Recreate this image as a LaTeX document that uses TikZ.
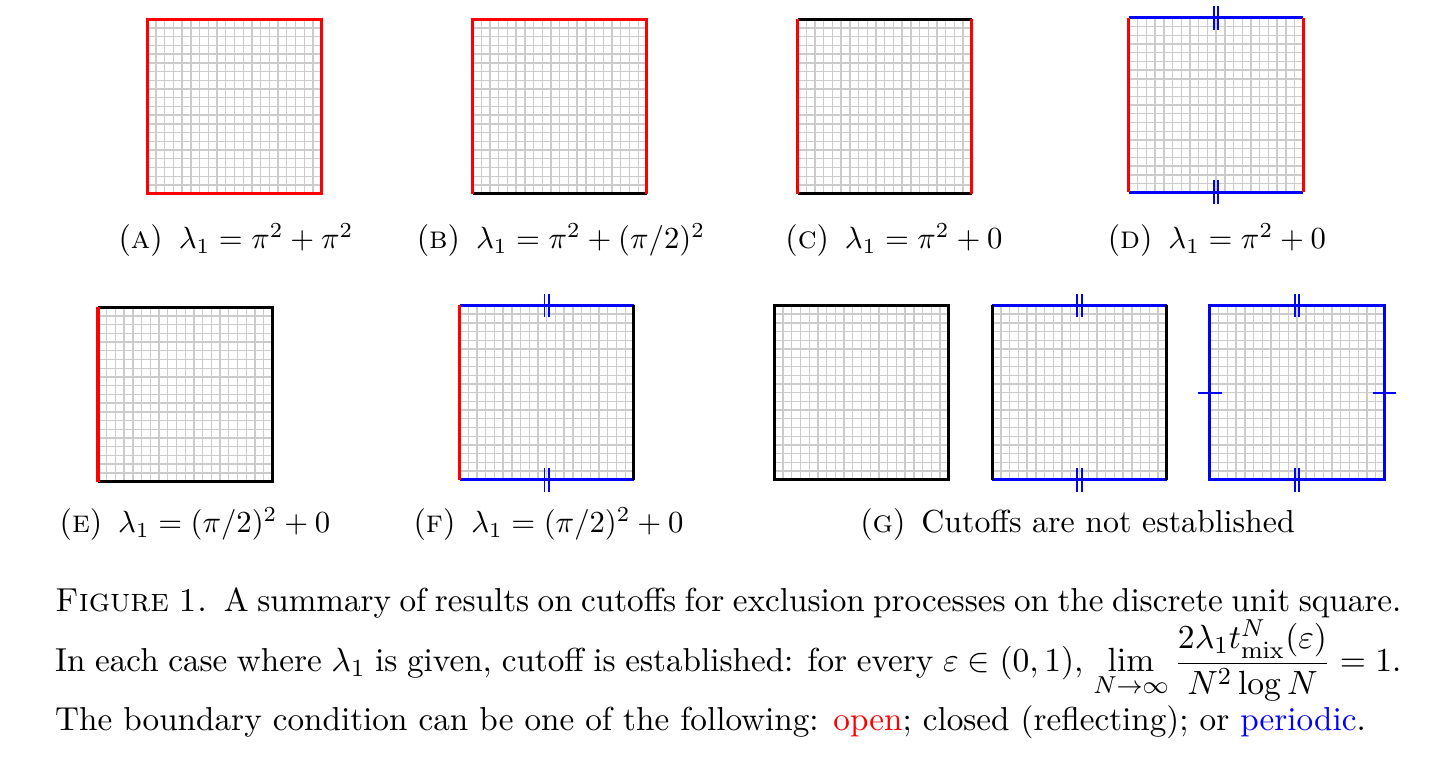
\documentclass[tikz,border=0pt]{standalone}
\usepackage{amsmath,amssymb,xcolor}
\usepackage{tikz}

\tikzset{
  openside/.style={red, line width=1pt},
  closedside/.style={black, line width=1pt},
  periodicside/.style={blue, line width=1pt},
  tickmark/.style={blue, line width=0.6pt},
  gridline/.style={gray!40, line width=0.45pt},
  sublabel/.style={anchor=base, inner sep=0pt, font=\fontsize{10.4}{12.5}\selectfont},
  capline/.style={anchor=base west, inner sep=0pt, font=\fontsize{10.83}{13}\selectfont}
}
% fine grid of the unit square, 20 x 20 cells
\newcommand{\unitgrid}{%
  \foreach \i in {1,...,19} {
    \draw[gridline] (\i/10,0) -- (\i/10,2);
    \draw[gridline] (0,\i/10) -- (2,\i/10);
  }}
% periodic marks: double ticks on top and bottom
\newcommand{\topbottomticks}{%
  \foreach \yy in {0,2} {
    \draw[tickmark] (0.975,\yy-0.135) -- (0.975,\yy+0.135);
    \draw[tickmark] (1.025,\yy-0.135) -- (1.025,\yy+0.135);
  }}

\begin{document}
\begin{tikzpicture}
  \useasboundingbox (0,0) rectangle (16.457,8.773);

  % (a) open on all sides
  \begin{scope}[shift={(1.689,6.552)}]
    \unitgrid
    \draw[openside] (0,0) rectangle (2,2);
  \end{scope}
  % (b)
  \begin{scope}[shift={(5.419,6.552)}]
    \unitgrid
    \draw[closedside] (0,0) -- (2,0);
    \draw[openside] (2,0) -- (2,2) -- (0,2) -- (0,0);
  \end{scope}
  % (c)
  \begin{scope}[shift={(9.146,6.552)}]
    \unitgrid
    \draw[closedside] (0,0) -- (2,0);
    \draw[closedside] (0,2) -- (2,2);
    \draw[openside] (0,0) -- (0,2);
    \draw[openside] (2,0) -- (2,2);
  \end{scope}
  % (d)
  \begin{scope}[shift={(12.947,6.568)}]
    \unitgrid
    \draw[periodicside] (0,0) -- (2,0);
    \draw[periodicside] (0,2) -- (2,2);
    \draw[openside] (0,0) -- (0,2);
    \draw[openside] (2,0) -- (2,2);
    \topbottomticks
  \end{scope}

  % (e)
  \begin{scope}[shift={(1.124,3.250)}]
    \unitgrid
    \draw[closedside] (0,0) -- (2,0) -- (2,2) -- (0,2);
    \draw[openside] (0,0) -- (0,2);
  \end{scope}
  % (f)
  \begin{scope}[shift={(5.270,3.270)}]
    \unitgrid
    \draw[periodicside] (0,0) -- (2,0);
    \draw[periodicside] (0,2) -- (2,2);
    \draw[openside] (0,0) -- (0,2);
    \draw[closedside] (2,0) -- (2,2);
    \topbottomticks
  \end{scope}
  % (g) three cases
  \begin{scope}[shift={(8.880,3.270)}]
    \unitgrid
    \draw[closedside] (0,0) rectangle (2,2);
  \end{scope}
  \begin{scope}[shift={(11.380,3.270)}]
    \unitgrid
    \draw[periodicside] (0,0) -- (2,0);
    \draw[periodicside] (0,2) -- (2,2);
    \draw[closedside] (0,0) -- (0,2);
    \draw[closedside] (2,0) -- (2,2);
    \topbottomticks
  \end{scope}
  \begin{scope}[shift={(13.876,3.270)}]
    \unitgrid
    \draw[periodicside] (0,0) rectangle (2,2);
    \topbottomticks
    \draw[tickmark] (-0.135,1) -- (0.135,1);
    \draw[tickmark] (1.865,1) -- (2.135,1);
  \end{scope}

  % sub-captions
  \node[sublabel] (labA) at (2.706,5.923) {(\textsc{a})\enspace$\lambda_1=\pi^2+\pi^2$};
  \node[sublabel] (labB) at (6.433,5.923) {(\textsc{b})\enspace$\lambda_1=\pi^2+(\pi/2)^2$};
  \node[sublabel] (labC) at (10.252,5.923) {(\textsc{c})\enspace$\lambda_1=\pi^2+0$};
  \node[sublabel] (labD) at (13.956,5.923) {(\textsc{d})\enspace$\lambda_1=\pi^2+0$};
  \node[sublabel] (labE) at (2.236,2.661) {(\textsc{e})\enspace$\lambda_1=(\pi/2)^2+0$};
  \node[sublabel] (labF) at (6.290,2.661) {(\textsc{f})\enspace$\lambda_1=(\pi/2)^2+0$};
  \node[sublabel] (labG) at (12.357,2.661) {(\textsc{g})\enspace Cutoffs are not established};

  % figure caption
  \node[capline] (capone) at (0.625,1.755) {\makebox[15.44cm][s]{\textsc{Figure 1.}\enspace A summary of results on cutoffs for exclusion processes on the discrete unit square.}};
  \node[capline] (captwo) at (0.625,1.070) {\makebox[15.44cm][s]{In each case where $\lambda_1$ is given, cutoff is established: for every $\varepsilon\in(0,1)$, $\displaystyle\lim_{N\to\infty}\frac{2\lambda_1 t^N_{\mathrm{mix}}(\varepsilon)}{N^2\log N}=1$.}};
  \node[capline] (capthree) at (0.625,0.393) {The boundary condition can be one of the following: \textcolor{red}{open}; closed (reflecting); or \textcolor{blue}{periodic}.};
\end{tikzpicture}
\end{document}
